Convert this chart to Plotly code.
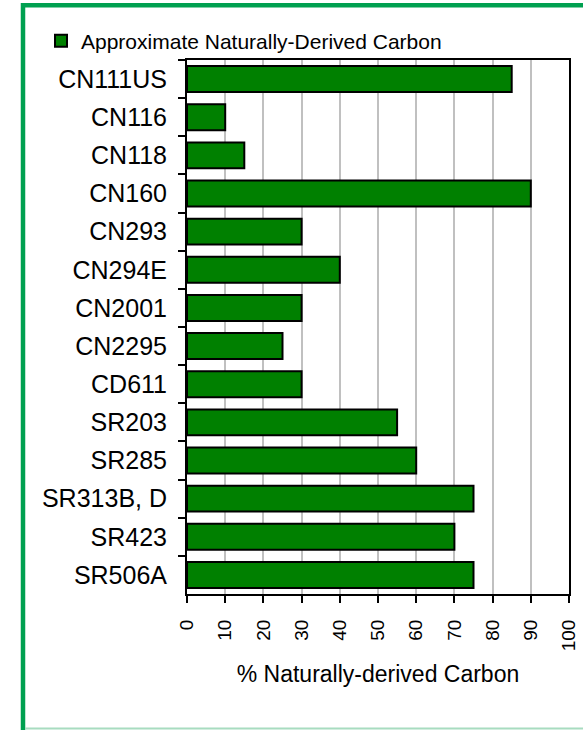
import plotly.graph_objects as go

categories = ["CN111US", "CN116", "CN118", "CN160", "CN293", "CN294E", "CN2001",
              "CN2295", "CD611", "SR203", "SR285", "SR313B, D", "SR423", "SR506A"]
values = [85, 10, 15, 90, 30, 40, 30, 25, 30, 55, 60, 75, 70, 75]
series_name = "Approximate Naturally-Derived Carbon"
x_ticks = list(range(0, 101, 10))

W, H = 583, 730
L, R, T, B = 187, 569, 60, 594

def px(x):
    return (x - L) / (R - L)

def py(y):
    return (B - y) / (B - T)

fig = go.Figure()
fig.add_trace(go.Bar(
    y=categories, x=values, orientation="h", name=series_name,
    marker=dict(color="#008000", line=dict(color="black", width=2)),
    showlegend=True,
))

fig.update_layout(
    width=W, height=H,
    margin=dict(l=L, r=W - R, t=T, b=H - B, pad=0, autoexpand=False),
    paper_bgcolor="white", plot_bgcolor="white",
    font=dict(family="Liberation Sans, Arial, sans-serif", color="black"),
    bargap=0.32,
    showlegend=True,
    legend=dict(x=px(41), y=py(41), xanchor="left", yanchor="middle",
                font=dict(size=21), bgcolor="rgba(0,0,0,0)", borderwidth=0),
    xaxis=dict(range=[0, 100], tickvals=x_ticks, ticktext=[str(v) for v in x_ticks],
               tickangle=-90, tickfont=dict(size=19), ticks="outside", ticklen=7,
               tickcolor="black", tickwidth=2, automargin=False, ticklabelstandoff=9,
               showgrid=True, gridcolor="#c0c0c0", gridwidth=2,
               showline=True, linecolor="black", linewidth=2, mirror=True,
               zeroline=False,
               title=dict(text="% Naturally-derived Carbon", font=dict(size=23), standoff=16)),
    yaxis=dict(autorange="reversed", type="category", tickson="boundaries",
               ticks="outside", ticklen=7, tickcolor="black", tickwidth=2,
               tickfont=dict(size=25), automargin=False, ticklabelstandoff=13,
               showline=True, linecolor="black", linewidth=2,
               mirror=True, showgrid=False),
    shapes=[
        dict(type="line", xref="paper", yref="paper", x0=px(23), x1=px(23),
             y0=py(3), y1=py(730), line=dict(color="#00A050", width=4.5)),
        dict(type="line", xref="paper", yref="paper", x0=px(21), x1=px(600),
             y0=py(5.2), y1=py(5.2), line=dict(color="#00A050", width=4.5)),
        dict(type="line", xref="paper", yref="paper", x0=px(25), x1=px(600),
             y0=py(728.5), y1=py(728.5), line=dict(color="#A8DCC0", width=2)),
    ],
)

fig.write_html(
    "out.html",
    config={"displayModeBar": False},
    post_script="document.body.style.margin='0';document.body.style.overflow='hidden';",
)
